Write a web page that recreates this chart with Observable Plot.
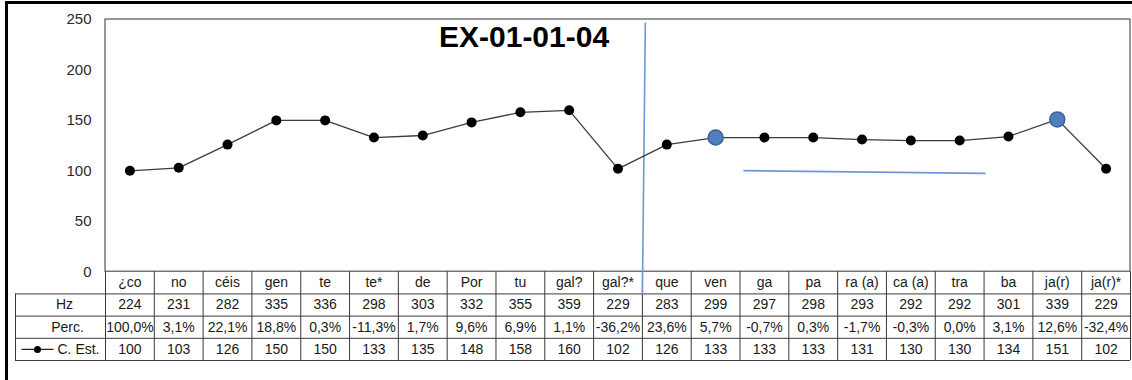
<!DOCTYPE html>
<html><head><meta charset="utf-8">
<script src="https://cdn.jsdelivr.net/npm/d3@7"></script>
<script src="https://cdn.jsdelivr.net/npm/@observablehq/plot@0.6"></script>
<style>
html,body{margin:0;padding:0;background:#fff;overflow:hidden;width:1132px;height:380px;}
#wrap{position:relative;width:1132px;height:380px;overflow:hidden;}
#chart{position:absolute;left:0;top:0;}
#frame{position:absolute;left:5px;top:1px;width:1200px;height:500px;border:3px solid #000;pointer-events:none;}
#title{position:absolute;left:439px;top:22px;font:bold 30px "Liberation Sans",Arial,sans-serif;line-height:30px;color:#000;white-space:nowrap;}
</style></head>
<body><div id="wrap"><div id="chart"></div><div id="frame"></div><div id="title">EX-01-01-04</div></div>
<script>
// ---- data ----
const syllables = ["¿co","no","céis","gen","te","te*","de","Por","tu","gal?","gal?*","que","ven","ga","pa","ra (a)","ca (a)","tra","ba","ja(r)","ja(r)*"];
const hz = [224,231,282,335,336,298,303,332,355,359,229,283,299,297,298,293,292,292,301,339,229];
const perc = ["100,0%","3,1%","22,1%","18,8%","0,3%","-11,3%","1,7%","9,6%","6,9%","1,1%","-36,2%","23,6%","5,7%","-0,7%","0,3%","-1,7%","-0,3%","0,0%","3,1%","12,6%","-32,4%"];
const cEst = [100,103,126,150,150,133,135,148,158,160,102,126,133,133,133,131,130,130,134,151,102];
const yTicks = [0,50,100,150,200,250];
const highlighted = ["ven","ja(r)"];
const rowLabels = ["Hz","Perc.","C. Est."];
// annotation lines (x in column index units, y in chart units)
const dividerLine = [{x1:10.56, y1:247, x2:10.5, y2:-22}];
const underline = [{x1:12.57, y1:100.2, x2:17.53, y2:97.5}];

// ---- layout ----
const W = 1132, H = 380;
const mLeft = 105, mRight = 2, mTop = 19, mBottom = 20;
const colW = (W - mLeft - mRight) / syllables.length;
const px2col = p => (p - mLeft) / colW - 0.5;
const rowEdges = [0, -22, -44, -66, -88];
const rowMid = k => (rowEdges[k] + rowEdges[k+1]) / 2;
const headLeft = px2col(15);

const rows = syllables.map((s, i) => ({i, s, hz: hz[i], perc: perc[i], est: cEst[i], hi: highlighted.includes(s)}));
const colEdges = d3.range(syllables.length + 1).map(k => k - 0.5);
const font = "'Liberation Sans', Arial, sans-serif";
const txt = "#1a1a1a", border = "#3a3a3a", fs = 14;

const chart = Plot.plot({
  width: W, height: H,
  marginLeft: mLeft, marginRight: mRight, marginTop: mTop, marginBottom: mBottom,
  style: {fontFamily: font, background: "transparent", overflow: "visible"},
  x: {domain: [-0.5, syllables.length - 0.5], axis: null},
  y: {domain: [-88, 250], axis: null},
  marks: [
    // plot area frame
    Plot.rect([0], {x1: -0.5, x2: syllables.length - 0.5, y1: 0, y2: 250, fill: "none", stroke: "#555", strokeWidth: 1.2}),
    // y tick labels
    Plot.text(yTicks, {x: -0.5, y: d => d, text: d => String(d), textAnchor: "end", dx: -14, fontSize: 15, fill: "#2a2a2a"}),
    // table grid
    Plot.ruleY(rowEdges.slice(1), {y: d => d, x1: headLeft, x2: syllables.length - 0.5, stroke: border, strokeWidth: 1}),
    Plot.ruleX(colEdges, {x: d => d, y1: 0, y2: rowEdges[4], stroke: border, strokeWidth: 1}),
    Plot.ruleX([headLeft], {x: d => d, y1: rowEdges[1], y2: rowEdges[4], stroke: border, strokeWidth: 1}),
    // table texts
    Plot.text(rows, {x: "i", y: rowMid(0), text: "s", fontSize: fs, fill: txt}),
    Plot.text(rows, {x: "i", y: rowMid(1), text: d => String(d.hz), fontSize: fs, fill: txt}),
    Plot.text(rows, {x: "i", y: rowMid(2), text: "perc", fontSize: fs, fill: txt}),
    Plot.text(rows, {x: "i", y: rowMid(3), text: d => String(d.est), fontSize: fs, fill: txt}),
    // row headers
    Plot.text([rowLabels[0]], {x: px2col(64), y: rowMid(1), text: d => d, fontSize: fs, fill: txt}),
    Plot.text([rowLabels[1]], {x: px2col(67), y: rowMid(2), text: d => d, fontSize: fs, fill: txt}),
    Plot.text([rowLabels[2]], {x: px2col(57), y: rowMid(3), text: d => d, textAnchor: "start", fontSize: fs, fill: txt}),
    Plot.link([0], {x1: px2col(21), x2: px2col(53), y1: rowMid(3), y2: rowMid(3), stroke: "#222", strokeWidth: 1.3}),
    Plot.dot([0], {x: px2col(37), y: rowMid(3), r: 3.5, fill: "#000"}),
    // annotations
    Plot.link(dividerLine, {x1: "x1", y1: "y1", x2: "x2", y2: "y2", stroke: "#6c98d6", strokeWidth: 1.6}),
    Plot.link(underline, {x1: "x1", y1: "y1", x2: "x2", y2: "y2", stroke: "#6c98d6", strokeWidth: 1.6}),
    // series
    Plot.line(rows, {x: "i", y: "est", stroke: "#3c3c3c", strokeWidth: 1.3}),
    Plot.dot(rows.filter(d => !d.hi), {x: "i", y: "est", r: 5, fill: "#000"}),
    Plot.dot(rows.filter(d => d.hi), {x: "i", y: "est", r: 7.5, fill: "#4f7fbf", stroke: "#3b6296", strokeWidth: 1.5})
  ]
});
document.getElementById("chart").appendChild(chart);
</script>
</body></html>
